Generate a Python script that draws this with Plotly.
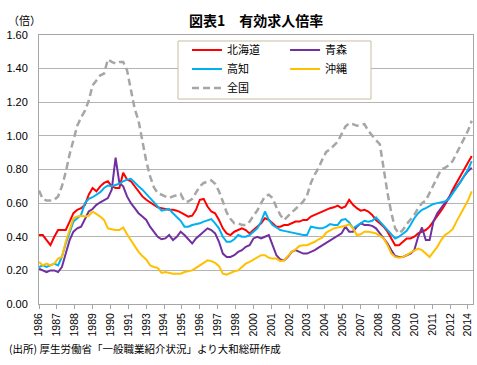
import pandas as pd
import plotly.graph_objects as go

# Quarterly points, Jan 1986 .. Apr 2014
QUARTERS = pd.date_range("1986-01-01", periods=114, freq="3MS")

HOKKAIDO = [0.41, 0.41, 0.38, 0.35, 0.40, 0.44, 0.44, 0.44, 0.49, 0.54,
            0.56, 0.57, 0.59, 0.65, 0.69, 0.67, 0.70, 0.72, 0.73, 0.70,
            0.69, 0.69, 0.78, 0.74, 0.73, 0.70, 0.67, 0.64, 0.62, 0.605,
            0.59, 0.575, 0.57, 0.565, 0.56, 0.56, 0.555, 0.545, 0.53, 0.52,
            0.525, 0.56, 0.62, 0.625, 0.58, 0.55, 0.54, 0.50, 0.45, 0.42,
            0.41, 0.43, 0.44, 0.45, 0.44, 0.42, 0.44, 0.46, 0.48, 0.51,
            0.50, 0.48, 0.46, 0.46, 0.47, 0.47, 0.48, 0.49, 0.49, 0.50,
            0.50, 0.52, 0.53, 0.54, 0.55, 0.56, 0.57, 0.575, 0.585, 0.57,
            0.58, 0.62, 0.59, 0.57, 0.555, 0.56, 0.55, 0.53, 0.50, 0.48,
            0.46, 0.43, 0.39, 0.35, 0.35, 0.37, 0.39, 0.39, 0.40, 0.42,
            0.43, 0.44, 0.46, 0.49, 0.52, 0.555, 0.59, 0.63, 0.68, 0.72,
            0.765, 0.80, 0.845, 0.88]

AOMORI = [0.21, 0.20, 0.19, 0.20, 0.20, 0.19, 0.22, 0.30, 0.38, 0.43,
          0.45, 0.46, 0.51, 0.55, 0.565, 0.59, 0.605, 0.62, 0.63, 0.68,
          0.87, 0.72, 0.70, 0.64, 0.60, 0.57, 0.54, 0.52, 0.50, 0.46,
          0.43, 0.40, 0.385, 0.39, 0.41, 0.38, 0.40, 0.43, 0.41, 0.385,
          0.36, 0.39, 0.41, 0.43, 0.45, 0.44, 0.42, 0.37, 0.30, 0.28,
          0.28, 0.29, 0.31, 0.32, 0.34, 0.35, 0.39, 0.40, 0.39, 0.40,
          0.41, 0.35, 0.29, 0.265, 0.26, 0.28, 0.31, 0.32, 0.31, 0.30,
          0.30, 0.31, 0.32, 0.335, 0.35, 0.365, 0.38, 0.39, 0.41, 0.42,
          0.46, 0.43, 0.43, 0.46, 0.48, 0.47, 0.47, 0.465, 0.45, 0.42,
          0.39, 0.36, 0.32, 0.285, 0.28, 0.28, 0.29, 0.30, 0.32, 0.40,
          0.455, 0.38, 0.38, 0.49, 0.54, 0.57, 0.60, 0.635, 0.665, 0.695,
          0.725, 0.76, 0.79, 0.81]

KOCHI = [0.22, 0.23, 0.22, 0.23, 0.24, 0.23, 0.28, 0.36, 0.42, 0.49,
         0.51, 0.53, 0.60, 0.625, 0.635, 0.65, 0.665, 0.69, 0.705, 0.70,
         0.71, 0.715, 0.73, 0.74, 0.745, 0.72, 0.70, 0.68, 0.655, 0.625,
         0.605, 0.58, 0.555, 0.56, 0.565, 0.54, 0.52, 0.495, 0.46, 0.46,
         0.47, 0.475, 0.48, 0.49, 0.50, 0.505, 0.48, 0.45, 0.40, 0.37,
         0.37, 0.385, 0.41, 0.40, 0.40, 0.41, 0.43, 0.45, 0.49, 0.55,
         0.50, 0.47, 0.455, 0.44, 0.435, 0.43, 0.425, 0.42, 0.415, 0.41,
         0.41, 0.46, 0.455, 0.45, 0.45, 0.46, 0.475, 0.47, 0.47, 0.50,
         0.505, 0.485, 0.45, 0.465, 0.485, 0.495, 0.49, 0.495, 0.515, 0.49,
         0.46, 0.435, 0.41, 0.39, 0.40, 0.415, 0.435, 0.47, 0.51, 0.54,
         0.56, 0.57, 0.585, 0.595, 0.60, 0.605, 0.61, 0.625, 0.655, 0.69,
         0.725, 0.76, 0.80, 0.85]

OKINAWA = [0.25, 0.23, 0.24, 0.23, 0.24, 0.27, 0.28, 0.37, 0.44, 0.51,
           0.52, 0.525, 0.52, 0.525, 0.55, 0.535, 0.52, 0.50, 0.45, 0.445,
           0.44, 0.44, 0.455, 0.415, 0.38, 0.345, 0.31, 0.285, 0.265, 0.23,
           0.22, 0.215, 0.185, 0.19, 0.185, 0.18, 0.18, 0.18, 0.19, 0.195,
           0.20, 0.215, 0.23, 0.24, 0.26, 0.255, 0.245, 0.225, 0.18, 0.175,
           0.185, 0.195, 0.20, 0.22, 0.24, 0.25, 0.265, 0.28, 0.29, 0.29,
           0.275, 0.27, 0.27, 0.255, 0.26, 0.285, 0.31, 0.325, 0.345, 0.35,
           0.35, 0.36, 0.37, 0.385, 0.395, 0.425, 0.44, 0.45, 0.455, 0.46,
           0.465, 0.475, 0.45, 0.41, 0.415, 0.43, 0.43, 0.425, 0.42, 0.405,
           0.39, 0.35, 0.30, 0.28, 0.275, 0.28, 0.29, 0.305, 0.32, 0.33,
           0.32, 0.30, 0.28, 0.31, 0.34, 0.38, 0.41, 0.425, 0.445, 0.49,
           0.53, 0.57, 0.615, 0.67]

NATIONAL = [0.675, 0.625, 0.615, 0.615, 0.62, 0.64, 0.70, 0.785, 0.89, 0.98,
            1.06, 1.11, 1.15, 1.21, 1.30, 1.33, 1.36, 1.37, 1.455, 1.44,
            1.43, 1.44, 1.44, 1.39, 1.28, 1.16, 1.09, 0.97, 0.85, 0.76,
            0.695, 0.66, 0.65, 0.64, 0.63, 0.64, 0.65, 0.655, 0.61, 0.61,
            0.625, 0.665, 0.70, 0.72, 0.73, 0.735, 0.715, 0.67, 0.61, 0.545,
            0.507, 0.48, 0.48, 0.47, 0.47, 0.49, 0.525, 0.556, 0.60, 0.64,
            0.65, 0.63, 0.575, 0.53, 0.50, 0.525, 0.545, 0.565, 0.585, 0.61,
            0.645, 0.72, 0.77, 0.81, 0.86, 0.905, 0.92, 0.94, 0.965, 1.01,
            1.055, 1.075, 1.07, 1.06, 1.065, 1.07, 1.03, 1.00, 0.975, 0.95,
            0.80, 0.66, 0.54, 0.45, 0.42, 0.44, 0.475, 0.505, 0.53, 0.57,
            0.60, 0.615, 0.66, 0.715, 0.76, 0.80, 0.81, 0.825, 0.85, 0.895,
            0.94, 0.985, 1.03, 1.09]

SERIES_NAMES = ["北海道", "青森", "高知", "沖縄", "全国"]

TICK_DATES = ["1986-01-01", "1987-03-01", "1988-05-01", "1989-07-01", "1990-09-01",
              "1991-11-01", "1993-01-01", "1994-03-01", "1995-05-01", "1996-07-01",
              "1997-09-01", "1998-11-01", "2000-01-01", "2001-03-01", "2002-05-01",
              "2003-07-01", "2004-09-01", "2005-11-01", "2007-01-01", "2008-03-01",
              "2009-05-01", "2010-07-01", "2011-09-01", "2012-11-01", "2014-01-01"]
TICK_LABELS = ["1986", "1987", "1988", "1989", "1990", "1991", "1993", "1994", "1995",
               "1996", "1997", "1998", "2000", "2001", "2002", "2003", "2004", "2005",
               "2007", "2008", "2009", "2010", "2011", "2012", "2014"]
Y_TICKS = [0.0, 0.2, 0.4, 0.6, 0.8, 1.0, 1.2, 1.4, 1.6]

JP = "Noto Sans CJK JP"
NUM = "Liberation Sans"

styles = [
    dict(color="#ff0000", width=2, dash="solid", legend="legend"),
    dict(color="#7030a0", width=2, dash="solid", legend="legend2"),
    dict(color="#00b0f0", width=2, dash="solid", legend="legend"),
    dict(color="#ffc000", width=2, dash="solid", legend="legend2"),
    dict(color="#a6a6a6", width=2.5, dash="7px,4px", legend="legend"),
]
data = [HOKKAIDO, AOMORI, KOCHI, OKINAWA, NATIONAL]

fig = go.Figure()
for name, vals, st in zip(SERIES_NAMES, data, styles):
    fig.add_trace(go.Scatter(
        x=QUARTERS, y=vals, name=name, mode="lines",
        line=dict(color=st["color"], width=st["width"], dash=st["dash"]),
        legend=st["legend"],
    ))

fig.update_layout(
    width=477, height=365,
    margin=dict(l=39, r=4, t=35, b=61),
    paper_bgcolor="white", plot_bgcolor="white",
    font=dict(family=JP, size=11, color="#000000"),
    showlegend=True,
    legend=dict(x=0.341, y=0.998, xanchor="left", yanchor="top",
                orientation="v", bgcolor="rgba(0,0,0,0)", borderwidth=0,
                font=dict(family=JP, size=11, color="#000000"), itemwidth=30),
    legend2=dict(x=0.567, y=0.998, xanchor="left", yanchor="top",
                 orientation="v", bgcolor="rgba(0,0,0,0)", borderwidth=0,
                 font=dict(family=JP, size=11, color="#000000"), itemwidth=30),
    xaxis=dict(
        type="date", range=["1986-01-01", "2014-05-01"],
        tickvals=TICK_DATES, ticktext=TICK_LABELS, tickangle=-90,
        tickfont=dict(family=NUM, size=10.5, color="#000000"),
        ticks="outside", ticklen=4, tickcolor="#a6a6a6",
        showgrid=False, showline=True, linecolor="#a6a6a6", linewidth=1,
        mirror=True, zeroline=False,
    ),
    yaxis=dict(
        range=[0, 1.6], tickvals=Y_TICKS, tickformat=".2f",
        tickfont=dict(family=NUM, size=11, color="#000000"),
        ticklabelstandoff=8,
        showgrid=True, gridcolor="#b4b4b4", gridwidth=1,
        showline=True, linecolor="#a6a6a6", linewidth=1, mirror=True,
        zeroline=False,
    ),
    shapes=[dict(type="rect", xref="paper", yref="paper",
                 x0=0.3203, x1=0.765, y0=0.762, y1=0.9777,
                 fillcolor="white", line=dict(color="#c8bfa0", width=1),
                 layer="above")],
    annotations=[
        dict(text="<b>図表1　有効求人倍率</b>", xref="paper", yref="paper",
             x=0.5, y=1.0558, xanchor="center", yanchor="middle",
             showarrow=False, font=dict(family=JP, size=14, color="#000000")),
        dict(text="（倍）", xref="paper", yref="paper",
             x=-0.076, y=1.0558, xanchor="left", yanchor="middle",
             showarrow=False, font=dict(family=JP, size=11, color="#000000")),
        dict(text="(出所) 厚生労働省「一般職業紹介状況」より大和総研作成",
             xref="paper", yref="paper", x=-0.0737, y=-0.167,
             xanchor="left", yanchor="middle", showarrow=False,
             font=dict(family=JP, size=10.5, color="#000000")),
    ],
)

fig.write_html("out.html",
               config={"displayModeBar": False},
               post_script="document.body.style.margin='0';"
                           "document.body.style.overflow='hidden';")
